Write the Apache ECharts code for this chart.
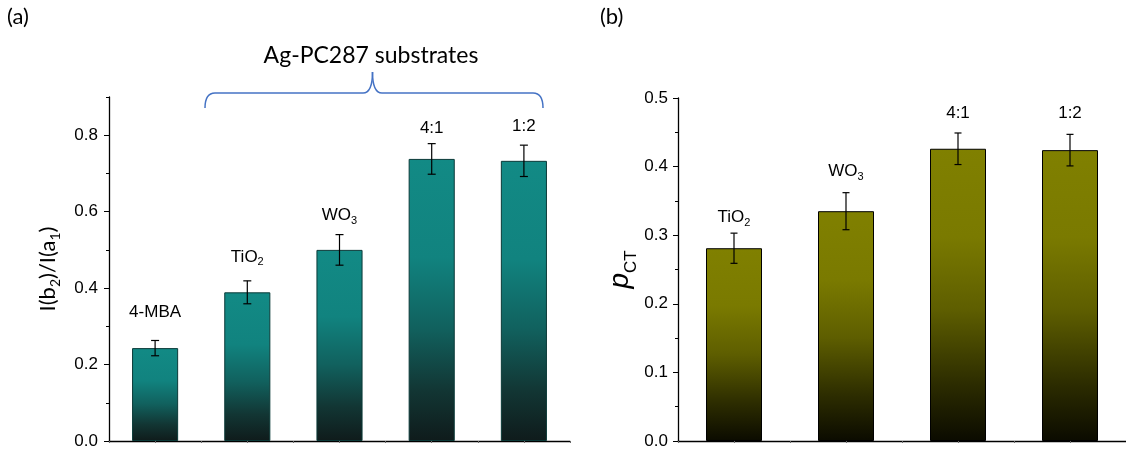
<!DOCTYPE html>
<html>
<head>
<meta charset="utf-8">
<script src="https://cdn.jsdelivr.net/npm/echarts@6/dist/echarts.min.js"></script>
<style>
  html, body { margin: 0; padding: 0; background: #fff; }
  #main { width: 1126px; height: 451px; }
</style>
</head>
<body>
<div id="main"></div>
<script>
// panel (a): I(b2)/I(a1)
const catsA = ['4-MBA', 'TiO2', 'WO3', '4:1', '1:2'];
const valsA = [0.243, 0.389, 0.500, 0.738, 0.733];
const errsA = [0.020, 0.030, 0.040, 0.040, 0.041];
const ticksA = [0, 0.2, 0.4, 0.6, 0.8];
const minorA = [0.1, 0.3, 0.5, 0.7, 0.9];

// panel (b): pCT
const catsB = ['TiO2', 'WO3', '4:1', '1:2'];
const valsB = [0.281, 0.335, 0.426, 0.424];
const errsB = [0.022, 0.027, 0.023, 0.023];

const FONT = '"Liberation Sans", Arial, sans-serif';

// distance (px) from error bar top to label middle
const gapA = [28, 24, 19, 15, 19];
const gapB = [16, 21, 20, 21];

function richLabel(c) {
  const m = c.match(/^(.*[A-Za-z])(\d)$/);
  return m ? '{n|' + m[1] + '}{s|' + m[2] + '}' : '{n|' + c + '}';
}

const labelRich = {
  n: { fontSize: 17, lineHeight: 22, fontFamily: FONT, fill: '#000' },
  s: { fontSize: 11, lineHeight: 8, verticalAlign: 'bottom', fontFamily: FONT, fill: '#000' }
};

function errorSeries(xi, yi, vals, errs, cats, gaps, capW) {
  return {
    type: 'custom',
    xAxisIndex: xi,
    yAxisIndex: yi,
    z: 5,
    data: vals.map((v, i) => [i, v, errs[i]]),
    renderItem: function (params, api) {
      const i = api.value(0), v = api.value(1), e = api.value(2);
      const top = api.coord([i, v + e]);
      const bot = api.coord([i, v - e]);
      const st = { stroke: '#000', lineWidth: 1.2 };
      return {
        type: 'group',
        children: [
          { type: 'line', shape: { x1: top[0], y1: top[1], x2: bot[0], y2: bot[1] }, style: st },
          { type: 'line', shape: { x1: top[0] - capW, y1: top[1], x2: top[0] + capW, y2: top[1] }, style: st },
          { type: 'line', shape: { x1: bot[0] - capW, y1: bot[1], x2: bot[0] + capW, y2: bot[1] }, style: st },
          {
            type: 'text', x: top[0], y: top[1] - gaps[i],
            style: { text: richLabel(cats[i]), rich: labelRich, align: 'center', verticalAlign: 'middle' }
          }
        ]
      };
    }
  };
}

const tealGrad = new echarts.graphic.LinearGradient(0, 0, 0, 1, [
  { offset: 0, color: '#128a85' },
  { offset: 0.35, color: '#11837f' },
  { offset: 0.6, color: '#11615e' },
  { offset: 0.82, color: '#123634' },
  { offset: 1, color: '#0f1b1b' }
]);
const oliveGrad = new echarts.graphic.LinearGradient(0, 0, 0, 1, [
  { offset: 0, color: '#808000' },
  { offset: 0.3, color: '#7a7a00' },
  { offset: 0.55, color: '#5e5e00' },
  { offset: 0.8, color: '#2d2d00' },
  { offset: 1, color: '#0b0b00' }
]);

const axisLine = { show: true, lineStyle: { color: '#000', width: 1.3 } };

function catAxis(grid, cats, centered) {
  return {
    type: 'category', gridIndex: grid, data: cats, position: 'bottom',
    axisLine: centered ? { show: false } : axisLine,
    axisTick: { show: true, length: 2, alignWithLabel: centered, lineStyle: { color: '#666' } },
    axisLabel: { show: false },
    splitLine: { show: false }
  };
}

// blue brace over the substrate bars
const braceStyle = { stroke: '#4472c4', lineWidth: 1.5, fill: 'none' };
const brace = [
  { type: 'bezierCurve', shape: { x1: 205, y1: 108, cpx1: 205, cpy1: 93, x2: 215, y2: 93 }, style: braceStyle },
  { type: 'line', shape: { x1: 215, y1: 93, x2: 363, y2: 93 }, style: braceStyle },
  { type: 'bezierCurve', shape: { x1: 363, y1: 93, cpx1: 372.5, cpy1: 93, x2: 372.5, y2: 72 }, style: braceStyle },
  { type: 'bezierCurve', shape: { x1: 372.5, y1: 72, cpx1: 372.5, cpy1: 93, x2: 382, y2: 93 }, style: braceStyle },
  { type: 'line', shape: { x1: 382, y1: 93, x2: 533, y2: 93 }, style: braceStyle },
  { type: 'bezierCurve', shape: { x1: 533, y1: 93, cpx1: 543, cpy1: 93, x2: 543, y2: 108 }, style: braceStyle }
];

const chart = echarts.init(document.getElementById('main'));
chart.setOption({
  animation: false,
  grid: [
    { left: 109, top: 97, bottom: 10, right: 556 },
    { left: 678, top: 98, bottom: 10, right: -14 }
  ],
  xAxis: [
    catAxis(0, catsA, false),
    catAxis(0, catsA, true),
    catAxis(1, catsB, false),
    catAxis(1, catsB, true)
  ],
  yAxis: [
    {
      type: 'value', gridIndex: 0, min: 0, max: 0.9, position: 'left',
      axisLine: axisLine,
      axisTick: { show: true, customValues: ticksA, length: 5, lineStyle: { color: '#000' } },
      axisLabel: { customValues: ticksA, formatter: v => v.toFixed(1), fontSize: 17, color: '#000', fontFamily: FONT, margin: 11 },
      splitLine: { show: false },
      name: '{n|I(b}{s|2}{n|)/I(a}{s|1}{n|)}',
      nameLocation: 'middle', nameRotate: 90, nameGap: 47,
      nameTextStyle: {
        rich: {
          n: { fontSize: 22, lineHeight: 28, fontFamily: 'Lato', color: '#000' },
          s: { fontSize: 14, lineHeight: 12, verticalAlign: 'bottom', fontFamily: 'Lato', color: '#000' }
        }
      }
    },
    {
      type: 'value', gridIndex: 0, min: 0, max: 0.9, position: 'left',
      axisLine: { show: false },
      axisTick: { show: true, customValues: minorA, length: 3, lineStyle: { color: '#000' } },
      axisLabel: { show: false },
      splitLine: { show: false }
    },
    {
      type: 'value', gridIndex: 1, min: 0, max: 0.5, interval: 0.1, position: 'left',
      axisLine: axisLine,
      axisTick: { show: true, length: 5, lineStyle: { color: '#000' } },
      minorTick: { show: true, splitNumber: 2, length: 3, lineStyle: { color: '#000' } },
      axisLabel: { formatter: v => v.toFixed(1), fontSize: 17, color: '#000', fontFamily: FONT, margin: 10 },
      splitLine: { show: false },
      name: '{p|p}{s|CT}',
      nameLocation: 'middle', nameRotate: 90, nameGap: 38,
      nameTextStyle: {
        rich: {
          p: { fontSize: 28, lineHeight: 40, fontStyle: 'italic', fontFamily: FONT, color: '#000' },
          s: { fontSize: 17, lineHeight: 17, verticalAlign: 'bottom', fontFamily: FONT, color: '#000' }
        }
      }
    }
  ],
  series: [
    {
      type: 'bar', xAxisIndex: 0, yAxisIndex: 0, data: valsA, barWidth: '50%',
      itemStyle: { color: tealGrad, borderColor: '#0b3a38', borderWidth: 1 }
    },
    errorSeries(0, 0, valsA, errsA, catsA, gapA, 4),
    {
      type: 'bar', xAxisIndex: 2, yAxisIndex: 2, data: valsB, barWidth: '50%',
      itemStyle: { color: oliveGrad, borderColor: '#000', borderWidth: 1 }
    },
    errorSeries(2, 2, valsB, errsB, catsB, gapB, 3.5)
  ],
  graphic: [
    { type: 'text', x: 7, y: 17, style: { text: '(a)', fontSize: 22, fontFamily: 'Lato', fill: '#000', align: 'left', verticalAlign: 'middle' } },
    { type: 'text', x: 600, y: 17, style: { text: '(b)', fontSize: 22, fontFamily: 'Lato', fill: '#000', align: 'left', verticalAlign: 'middle' } },
    { type: 'text', x: 371, y: 56, style: { text: 'Ag-PC287 substrates', fontSize: 23, fontFamily: 'Lato', fill: '#000', align: 'center', verticalAlign: 'middle' } }
  ].concat(brace)
});
</script>
</body>
</html>
